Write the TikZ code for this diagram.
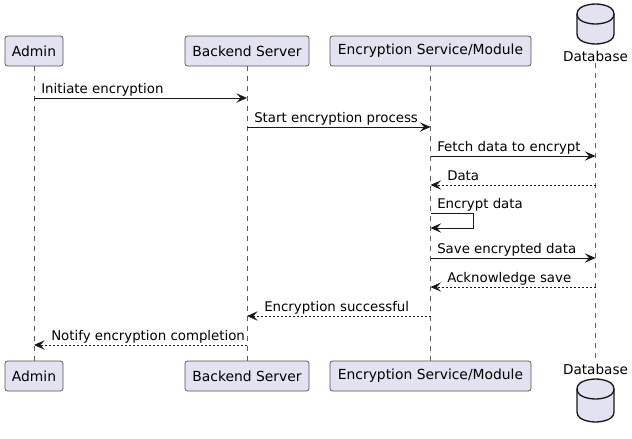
\documentclass[tikz,border=0pt]{standalone}
\usepackage{fontspec}
\setmainfont{DejaVu Sans}
\usepackage{xcolor}
\usetikzlibrary{arrows.meta}
\definecolor{partfill}{HTML}{E2E2F0}
\definecolor{partline}{HTML}{181818}

\begin{document}
\begin{tikzpicture}[x=0.75pt,y=0.75pt,yscale=-1,xscale=1,
  part/.style={draw=partline!75,fill=partfill,rounded corners=1.9pt,line width=0.55pt,minimum height=22.5pt,inner sep=0pt,font=\fontsize{10.4}{12}\selectfont},
  dblabel/.style={inner sep=1pt,font=\fontsize{10.2}{12}\selectfont},
  lifeline/.style={draw=partline!70,dash pattern=on 3.75pt off 3.75pt,line width=0.45pt},
  msg/.style={draw=partline,line width=0.75pt,-{Stealth[length=8pt,width=7pt,inset=3.2pt]}},
  reply/.style={msg,dash pattern=on 1.5pt off 1.5pt},
  lbl/.style={anchor=base west,inner sep=0pt,font=\fontsize{10}{12}\selectfont}]
\useasboundingbox (0,0) rectangle (632,439);

%Participants top
\node[part,minimum width=43.5pt] (admin) at (34,51) {Admin};
\node[part,minimum width=93pt] (backend) at (247,51) {Backend Server};
\node[part,minimum width=150.75pt] (enc) at (430.5,51) {Encryption Service/Module};
\node[dblabel] (db) at (595.5,56) {Database};
%Participants bottom
\node[part,minimum width=43.5pt] (adminB) at (34,376) {Admin};
\node[part,minimum width=93pt] (backendB) at (247,376) {Backend Server};
\node[part,minimum width=150.75pt] (encB) at (430.5,376) {Encryption Service/Module};
\node[dblabel] (dbB) at (595.5,369) {Database};

%Shape: Can top
\draw[draw=partline,fill=partfill,line width=1pt] (577,14) .. controls (577,4) and (595.5,4) .. (595.5,4) .. controls (595.5,4) and (614,4) .. (614,14) -- (614,34) .. controls (614,44) and (595.5,44) .. (595.5,44) .. controls (595.5,44) and (577,44) .. (577,34) -- cycle;
\draw[draw=partline,line width=1pt] (577,14) .. controls (577,24) and (595.5,24) .. (595.5,24) .. controls (595.5,24) and (614,24) .. (614,14);
%Shape: Can bottom
\draw[draw=partline,fill=partfill,line width=1pt] (577,389) .. controls (577,379) and (595.5,379) .. (595.5,379) .. controls (595.5,379) and (614,379) .. (614,389) -- (614,412) .. controls (614,422) and (595.5,422) .. (595.5,422) .. controls (595.5,422) and (577,422) .. (577,412) -- cycle;
\draw[draw=partline,line width=1pt] (577,389) .. controls (577,399) and (595.5,399) .. (595.5,399) .. controls (595.5,399) and (614,399) .. (614,389);

%Lifelines
\draw[lifeline] (admin) -- (adminB);
\draw[lifeline] (backend) -- (backendB);
\draw[lifeline] (enc) -- (encB);
\draw[lifeline] (db) -- (dbB);

%Message rows
\coordinate (r1) at (0,98);
\coordinate (r2) at (0,127);
\coordinate (r3) at (0,156);
\coordinate (r4) at (0,185);
\coordinate (r5a) at (0,213);
\coordinate (r5b) at (0,228);
\coordinate (r6) at (0,258);
\coordinate (r7) at (0,287);
\coordinate (r8) at (0,316);
\coordinate (r9) at (0,345);
\coordinate (loopR) at (473,0);

%Messages
\draw[msg] (admin |- r1) -- (backend |- r1);
\draw[msg] (backend |- r2) -- (enc |- r2);
\draw[msg] (enc |- r3) -- (db |- r3);
\draw[reply] (db |- r4) -- (enc |- r4);
\draw[msg] (enc |- r5a) -- (loopR |- r5a) -- (loopR |- r5b) -- (enc |- r5b);
\draw[msg] (enc |- r6) -- (db |- r6);
\draw[reply] (db |- r7) -- (enc |- r7);
\draw[reply] (enc |- r8) -- (backend |- r8);
\draw[reply] (backend |- r9) -- (admin |- r9);

% Text Node
\node[lbl] (t1) at (41,93) {Initiate encryption};
% Text Node
\node[lbl] (t2) at (254,122) {Start encryption process};
% Text Node
\node[lbl] (t3) at (437,151) {Fetch data to encrypt};
% Text Node
\node[lbl] (t4) at (447,180) {Data};
% Text Node
\node[lbl] (t5) at (437,208) {Encrypt data};
% Text Node
\node[lbl] (t6) at (437,253) {Save encrypted data};
% Text Node
\node[lbl] (t7) at (447,282) {Acknowledge save};
% Text Node
\node[lbl] (t8) at (264,311) {Encryption successful};
% Text Node
\node[lbl] (t9) at (51,340) {Notify encryption completion};

\end{tikzpicture}
\end{document}
